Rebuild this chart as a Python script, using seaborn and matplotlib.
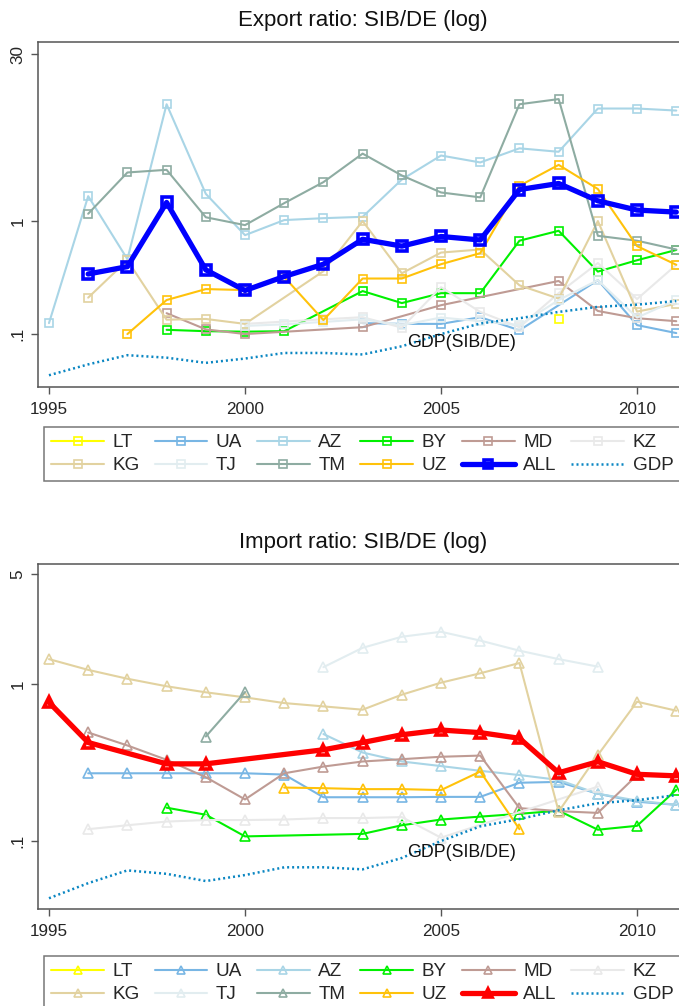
import numpy as np
import pandas as pd
import seaborn as sns
import matplotlib
matplotlib.use("Agg")
import matplotlib.pyplot as plt
from matplotlib.lines import Line2D

nan = np.nan
years = list(range(1995, 2012))

# ---- export ratios SIB/DE ----
exp_LT = [nan, nan, nan, nan, nan, nan, nan, nan, nan, nan, nan, nan, nan, 0.137, nan, nan, nan]
exp_UA = [nan, nan, nan, nan, nan, nan, nan, nan, 0.125, 0.123, 0.123, 0.141, 0.108, nan, 0.30, 0.12, 0.102]
exp_AZ = [0.125, 1.66, 0.46, 10.8, 1.74, 0.75, 1.02, 1.06, 1.09, 2.33, 3.8, 3.3, 4.4, 4.1, 9.9, 9.9, 9.5]
exp_BY = [nan, nan, nan, 0.109, 0.106, 0.105, 0.106, nan, 0.24, 0.188, 0.23, 0.23, 0.67, 0.82, 0.357, 0.45, 0.555]
exp_MD = [nan, nan, nan, 0.153, 0.11, 0.10, nan, nan, 0.115, nan, 0.18, nan, nan, 0.295, 0.16, 0.138, 0.13]
exp_KZ = [nan, nan, nan, nan, nan, 0.123, nan, 0.135, 0.141, 0.114, 0.26, 0.157, 0.115, 0.23, 0.425, 0.204, 0.41]
exp_KG = [nan, 0.21, 0.45, 0.134, 0.136, 0.123, nan, 0.36, 1.0, 0.345, 0.526, 0.56, 0.27, 0.206, 1.0, 0.158, 0.185]
exp_TJ = [nan, nan, nan, nan, nan, 0.118, 0.122, 0.128, 0.135, 0.12, 0.14, 0.13, 0.12, 0.2, 0.3, 0.14, 0.2]
exp_TM = [nan, 1.16, 2.69, 2.84, 1.08, 0.92, 1.44, 2.21, 3.95, 2.53, 1.79, 1.62, 10.8, 12.0, 0.74, 0.67, 0.56]
exp_UZ = [nan, nan, 0.10, 0.20, 0.25, 0.245, 0.32, 0.133, 0.31, 0.31, 0.415, 0.52, 2.05, 3.14, 1.92, 0.60, 0.41]
exp_ALL = [nan, 0.34, 0.395, 1.46, 0.37, 0.243, 0.323, 0.415, 0.69, 0.60, 0.73, 0.68, 1.90, 2.15, 1.51, 1.25, 1.20]

# ---- import ratios SIB/DE ----
imp_LT = [nan] * 17
imp_UA = [nan, 0.27, 0.27, 0.27, 0.27, 0.27, 0.265, 0.19, 0.19, 0.19, 0.191, 0.191, 0.235, 0.238, 0.20, 0.178, 0.17]
imp_AZ = [nan, nan, nan, nan, nan, nan, nan, 0.48, 0.366, 0.321, 0.30, 0.28, 0.263, 0.245, 0.20, 0.181, 0.17]
imp_BY = [nan, nan, nan, 0.163, 0.147, 0.107, nan, nan, 0.111, 0.126, 0.137, 0.143, 0.149, 0.156, 0.118, 0.125, 0.212]
imp_MD = [nan, 0.491, 0.406, 0.329, 0.255, 0.184, 0.27, 0.298, 0.321, 0.332, 0.344, 0.35, 0.162, 0.155, 0.151, 0.263, nan]
imp_KZ = [nan, 0.119, 0.126, 0.133, 0.136, 0.136, 0.137, 0.14, 0.14, 0.142, 0.105, nan, nan, nan, 0.222, nan, nan]
imp_KG = [1.44, 1.23, 1.08, 0.967, 0.885, 0.822, 0.756, 0.72, 0.686, 0.855, 1.02, 1.17, 1.36, 0.154, 0.353, 0.771, 0.676]
imp_TJ = [nan, nan, nan, nan, nan, nan, nan, 1.28, 1.70, 2.0, 2.15, 1.89, 1.63, 1.44, 1.29, nan, nan]
imp_TM = [nan, nan, nan, nan, 0.463, 0.889, nan, nan, nan, nan, nan, nan, nan, nan, nan, nan, nan]
imp_UZ = [nan, nan, nan, nan, nan, nan, 0.219, 0.217, 0.214, 0.214, 0.211, 0.277, 0.119, nan, nan, nan, nan]
imp_ALL = [0.764, 0.424, nan, 0.31, 0.31, nan, nan, 0.381, 0.424, 0.475, 0.509, 0.49, 0.451, 0.272, 0.32, 0.266, 0.26]

# GDP ratio SIB/DE (shared by both panels)
gdp = [0.0432, 0.0539, 0.065, 0.0618, 0.0556, 0.0607, 0.068, 0.068, 0.066, 0.078, 0.10, 0.124, 0.138, 0.157, 0.174, 0.182, 0.196]

countries = ["LT", "UA", "AZ", "BY", "MD", "KZ", "KG", "TJ", "TM", "UZ"]
colors = {
    "LT": "#ffff00", "UA": "#78b6e4", "AZ": "#a9d5e6", "BY": "#00f000",
    "MD": "#bf9b94", "KZ": "#e9e9e9", "KG": "#e2d2a0", "TJ": "#e2edf0",
    "TM": "#8eaca2", "UZ": "#ffc20a",
}
gdp_color = "#0a86c2"

export_series = dict(LT=exp_LT, UA=exp_UA, AZ=exp_AZ, BY=exp_BY, MD=exp_MD, KZ=exp_KZ,
                     KG=exp_KG, TJ=exp_TJ, TM=exp_TM, UZ=exp_UZ)
import_series = dict(LT=imp_LT, UA=imp_UA, AZ=imp_AZ, BY=imp_BY, MD=imp_MD, KZ=imp_KZ,
                     KG=imp_KG, TJ=imp_TJ, TM=imp_TM, UZ=imp_UZ)

sns.set_theme(style="ticks")
plt.rcParams["font.family"] = ["Liberation Sans", "DejaVu Sans"]
plt.rcParams["axes.edgecolor"] = "#555555"
plt.rcParams["axes.linewidth"] = 1.1

W, H = 679, 1006
fig = plt.figure(figsize=(W / 100, H / 100), dpi=100)


def px_rect(left, top, right, bottom):
    return [left / W, 1 - bottom / H, (right - left) / W, (bottom - top) / H]


def draw_panel(ax, series, all_vals, all_color, marker, ms, ylim, yticks, yticklabels):
    ax.set_yscale("log")
    for c in countries:
        vals = series[c]
        df = pd.DataFrame({"year": years, "v": vals}).dropna()
        if len(df):
            sns.lineplot(data=df, x="year", y="v", ax=ax, color=colors[c], lw=1.5,
                         marker=marker, ms=ms, mfc="none", mec=colors[c], mew=1.2,
                         errorbar=None, legend=False)
    df = pd.DataFrame({"year": years, "v": all_vals}).dropna()
    sns.lineplot(data=df, x="year", y="v", ax=ax, color=all_color, lw=3.8,
                 marker=marker, ms=ms + 0.5, mfc="none", mec=all_color, mew=2.6,
                 errorbar=None, legend=False)
    dg = pd.DataFrame({"year": years, "v": gdp})
    sns.lineplot(data=dg, x="year", y="v", ax=ax, color=gdp_color, lw=1.8,
                 linestyle=(0, (0.8, 1.2)), errorbar=None, legend=False)
    ax.text(2004.13, 0.084, "GDP(SIB/DE)", fontsize=12.8, va="center", ha="left", color="#111111")

    ax.set_xlim(1994.72, 2011.35)
    ax.set_ylim(*ylim)
    ax.set_xticks([1995, 2000, 2005, 2010])
    ax.set_xticklabels(["1995", "2000", "2005", "2010"])
    ax.yaxis.set_minor_locator(matplotlib.ticker.NullLocator())
    ax.set_yticks(yticks)
    ax.set_yticklabels(yticklabels, rotation=90, va="center")
    ax.tick_params(axis="both", labelsize=12.3, length=5, width=1.0, color="#555555",
                   direction="out")
    ax.tick_params(axis="x", pad=5.5)
    ax.tick_params(axis="y", pad=4)
    ax.set_xlabel("")
    ax.set_ylabel("")
    for s in ax.spines.values():
        s.set_visible(True)
    ax.grid(False)


def add_legend(top_px, all_color, marker):
    handles = {}
    for c in countries:
        handles[c] = Line2D([], [], color=colors[c], lw=1.5, marker=marker, ms=5.5,
                            mfc="none", mec=colors[c], mew=1.2)
    handles["ALL"] = Line2D([], [], color=all_color, lw=3.8, marker=marker, ms=6,
                            mfc="none", mec=all_color, mew=2.6)
    handles["GDP"] = Line2D([], [], color=gdp_color, lw=1.8, linestyle=(0, (0.8, 1.2)))
    row1 = ["LT", "UA", "AZ", "BY", "MD", "KZ"]
    row2 = ["KG", "TJ", "TM", "UZ", "ALL", "GDP"]
    order = [k for pair in zip(row1, row2) for k in pair]
    leg = fig.legend([handles[k] for k in order], order, loc="upper left",
                     bbox_to_anchor=(44 / W, 1 - top_px / H), ncol=6, fontsize=13.6,
                     frameon=True, fancybox=False, edgecolor="#555555",
                     handlelength=2.8, handletextpad=0.45, columnspacing=0.78,
                     labelspacing=0.3, borderpad=0.38, borderaxespad=0)
    leg.get_frame().set_linewidth(1.1)


ax1 = fig.add_axes(px_rect(38, 42, 690, 387))
draw_panel(ax1, export_series, exp_ALL, "#0000ff", "s", 6,
           (0.034, 38.4), [0.1, 1, 30], [".1", "1", "30"])
fig.text(363 / W, 1 - 26 / H, "Export ratio: SIB/DE (log)", ha="center", va="baseline",
         fontsize=16, color="#111111")
add_legend(427, "#0000ff", "s")

ax2 = fig.add_axes(px_rect(38, 564, 690, 909))
draw_panel(ax2, import_series, imp_ALL, "#ff0000", "^", 7,
           (0.0369, 5.81), [0.1, 1, 5], [".1", "1", "5"])
fig.text(363 / W, 1 - 548 / H, "Import ratio: SIB/DE (log)", ha="center", va="baseline",
         fontsize=16, color="#111111")
add_legend(956, "#ff0000", "^")

fig.savefig("out.png", dpi=100, facecolor="white")
